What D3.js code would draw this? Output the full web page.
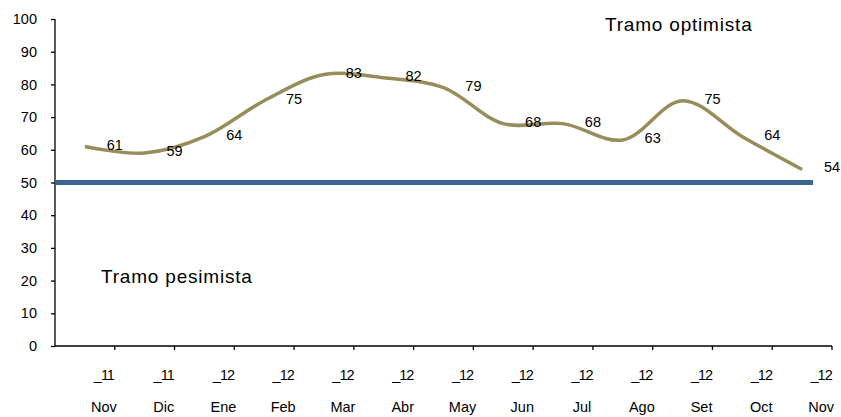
<!DOCTYPE html>
<html>
<head>
<meta charset="utf-8">
<script src="https://cdn.jsdelivr.net/npm/d3@7"></script>
<style>
  body { margin: 0; background: #fff; }
  svg { display: block; font-family: "Liberation Sans", Arial, sans-serif; }
  .axis path, .axis line { stroke: #000; stroke-width: 1.3; }
  .axis text { font-size: 14.5px; fill: #000; }
  .val { font-size: 14.5px; fill: #000; }
  .tramo { font-size: 19px; fill: #000; }
</style>
</head>
<body>
<svg id="chart" width="841" height="417"></svg>
<script>
// data
const months = ['Nov', 'Dic', 'Ene', 'Feb', 'Mar', 'Abr', 'May', 'Jun', 'Jul', 'Ago', 'Set', 'Oct', 'Nov'];
const years = ['11', '11', '12', '12', '12', '12', '12', '12', '12', '12', '12', '12', '12'];
const indice = [61, 59, 64, 75, 83, 82, 79, 68, 68, 63, 75, 64, 54];
const umbral = 50;
const yTicks = [0, 10, 20, 30, 40, 50, 60, 70, 80, 90, 100];

const margin = {top: 19, right: 9, bottom: 71, left: 55};
const W = 841 - margin.left - margin.right;
const H = 417 - margin.top - margin.bottom;

const svg = d3.select('#chart');
const g = svg.append('g').attr('transform', `translate(${margin.left},${margin.top})`);

const cats = d3.range(months.length);
const x = d3.scaleBand().domain(cats).range([0, W]);
const y = d3.scaleLinear().domain([0, 100]).range([H, 0]);
const cx = (i) => x(i) + x.bandwidth() / 2;

// y axis
const yAxis = g.append('g').attr('class', 'axis')
  .call(d3.axisLeft(y).tickValues(yTicks).tickSize(4).tickPadding(14));
yAxis.select('.domain').attr('d', `M0,0V${H}`);

// x axis, ticks on category boundaries
const xAxis = g.append('g').attr('class', 'axis')
  .attr('transform', `translate(0,${H})`);
xAxis.append('line').attr('x1', 0).attr('x2', W).attr('y1', 0).attr('y2', 0);
xAxis.selectAll('.tk').data(cats).enter().append('line')
  .attr('class', 'tk')
  .attr('x1', (d) => x(d) + x.bandwidth()).attr('x2', (d) => x(d) + x.bandwidth())
  .attr('y1', 0).attr('y2', 4);

const lab = xAxis.selectAll('.lab').data(cats).enter().append('g')
  .attr('class', 'lab')
  .attr('transform', (d) => `translate(${cx(d) + 19},0)`);
lab.append('text')
  .attr('y', 34).attr('text-anchor', 'middle')
  .text((d) => '_' + years[d])
  .attr('letter-spacing', -1);
lab.append('text')
  .attr('y', 66).attr('text-anchor', 'middle')
  .text((d) => months[d]);

// threshold line
g.append('line')
  .attr('x1', 0).attr('x2', cx(months.length - 1) + 11)
  .attr('y1', y(umbral)).attr('y2', y(umbral))
  .attr('stroke', '#3b6395').attr('stroke-width', 5);

// smoothed index line
const line = d3.line()
  .x((d, i) => cx(i))
  .y((d) => y(d))
  .curve(d3.curveCatmullRom.alpha(0.5));

g.append('path')
  .datum(indice)
  .attr('d', line)
  .attr('fill', 'none')
  .attr('stroke', '#968d5b')
  .attr('stroke-width', 3.5);

// value labels
g.selectAll('.val').data(indice).enter().append('text')
  .attr('class', 'val')
  .attr('x', (d, i) => x(i) + x.bandwidth())
  .attr('y', (d) => y(d) + 3)
  .attr('text-anchor', 'middle')
  .text((d) => d);

svg.append('text').attr('class', 'tramo')
  .attr('x', 605).attr('y', 31)
  .attr('letter-spacing', 0.8)
  .text('Tramo optimista');
svg.append('text').attr('class', 'tramo')
  .attr('x', 101).attr('y', 283)
  .attr('letter-spacing', 0.8)
  .text('Tramo pesimista');
</script>
</body>
</html>
